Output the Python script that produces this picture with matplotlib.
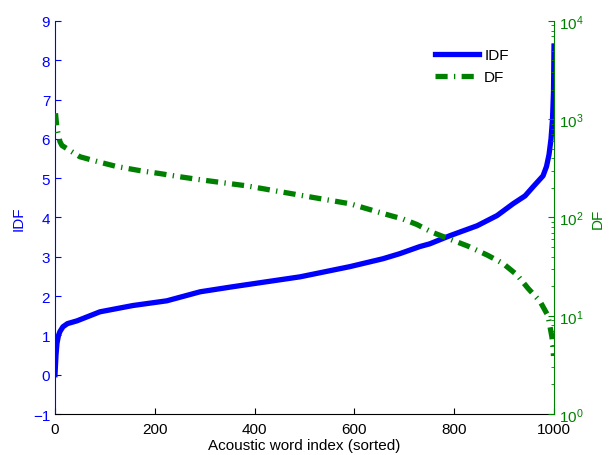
import matplotlib
matplotlib.use('Agg')
import matplotlib.pyplot as plt
import numpy as np

plt.rcParams['font.family'] = ['Liberation Sans', 'DejaVu Sans']
plt.rcParams['font.size'] = 11

# IDF curve (sorted)
idf_idx = [0, 2, 4, 7, 10, 16, 25, 44, 90, 156, 224, 291, 357, 491, 591, 657,
           691, 731, 751, 792, 846, 886, 918, 942, 958, 978, 985, 990, 994,
           997, 999, 1000]
idf_val = [0.0, 0.5, 0.8, 1.0, 1.1, 1.22, 1.3, 1.37, 1.6, 1.76, 1.88, 2.11,
           2.24, 2.49, 2.75, 2.95, 3.08, 3.26, 3.33, 3.54, 3.79, 4.05, 4.35,
           4.55, 4.78, 5.06, 5.3, 5.6, 6.0, 6.5, 7.2, 8.35]

# DF curve (log scale)
df_idx = [1, 4, 10, 14, 50, 90, 124, 170, 210, 254, 297, 384, 511, 591, 671,
          697, 725, 755, 792, 828, 866, 898, 926, 948, 972, 988, 996, 999]
df_val = [1150, 800, 590, 540, 415, 365, 330, 300, 280, 258, 240, 210, 162,
          138, 105, 96.6, 85, 71, 60, 51, 41.5, 34, 26, 19, 14, 10, 6, 3.9]

blue = (0, 0, 1)
green = (0, 0.5, 0)

fig = plt.figure(figsize=(6.09, 4.56), dpi=100)
ax = fig.add_axes([0.0903, 0.0899, 0.8194, 0.8619])
ax2 = ax.twinx()

l1, = ax.plot(idf_idx, idf_val, color=blue, linewidth=3.8, label='IDF')
l2, = ax2.plot(df_idx, df_val, color=green, linewidth=3.8, label='DF',
               dash_capstyle='butt')
l2.set_dashes([2.3, 1.2, 0.25, 1.2])

ax.set_xlim(0, 1000)
ax.set_ylim(-1, 9)
ax.set_xticks(np.arange(0, 1001, 200))
ax.set_yticks(np.arange(-1, 10, 1))
ax2.set_yscale('log')
ax2.set_ylim(1, 1e4)

for a in (ax, ax2):
    a.spines['top'].set_visible(False)
ax.spines['left'].set_color(blue)
ax.spines['right'].set_visible(False)
ax2.spines['left'].set_visible(False)
ax2.spines['bottom'].set_visible(False)
ax2.spines['right'].set_color(green)

ax.tick_params(axis='x', direction='in', length=4, labelsize=11, pad=6)
ax.tick_params(axis='y', direction='in', length=4, colors=blue, labelsize=11)
ax2.tick_params(axis='y', which='major', direction='in', length=4,
                colors=green, labelsize=11)
ax2.tick_params(axis='y', which='minor', direction='in', length=2,
                colors=green)

ax.set_xlabel('Acoustic word index (sorted)', fontsize=11, labelpad=1)
ax.set_ylabel('IDF', color=blue, fontsize=11, labelpad=5)
ax2.set_ylabel('DF', color=green, fontsize=11, labelpad=5)

ax2.legend([l1, l2], ['IDF', 'DF'], loc='upper left',
           bbox_to_anchor=(0.733, 0.965), frameon=False, fontsize=11,
           handlelength=2.9, handletextpad=0.35, labelspacing=0.5)

fig.savefig('out.png', dpi=100)
